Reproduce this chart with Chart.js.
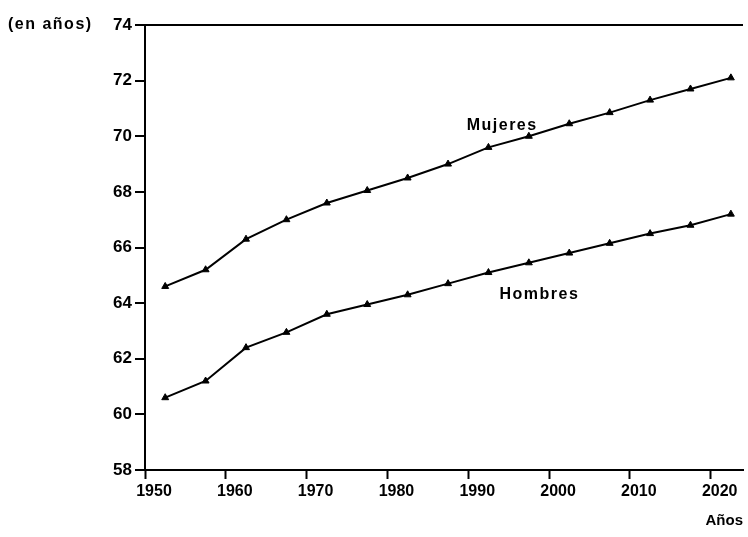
<!DOCTYPE html>
<html>
<head>
<meta charset="utf-8">
<script src="https://cdn.jsdelivr.net/npm/chart.js@4/dist/chart.umd.min.js"></script>
<style>
  html, body { margin: 0; padding: 0; background: #fff; }
  #wrap { width: 748px; height: 537px; }
</style>
</head>
<body>
<div id="wrap"><canvas id="esperanza"></canvas></div>
<script>
// Esperanza de vida al nacer (en años), puntos centrales de cada quinquenio
const anios = [1952.5, 1957.5, 1962.5, 1967.5, 1972.5, 1977.5, 1982.5, 1987.5,
               1992.5, 1997.5, 2002.5, 2007.5, 2012.5, 2017.5, 2022.5];
const mujeres = [64.6, 65.2, 66.3, 67.0, 67.6, 68.05, 68.5, 69.0,
                 69.6, 70.0, 70.45, 70.85, 71.3, 71.7, 72.1];
const hombres = [60.6, 61.2, 62.4, 62.95, 63.6, 63.95, 64.3, 64.7,
                 65.1, 65.45, 65.8, 66.15, 66.5, 66.8, 67.2];
const ticksX = [1950, 1960, 1970, 1980, 1990, 2000, 2010, 2020];
const ticksY = [58, 60, 62, 64, 66, 68, 70, 72, 74];

const fuente = 'bold 16px "Liberation Sans", Arial, sans-serif';

// textos sueltos: unidad del eje y nombres de las series
const rotulos = {
  id: 'rotulos',
  afterDraw(chart) {
    const { ctx, scales: { x, y } } = chart;
    ctx.save();
    ctx.fillStyle = '#000';
    ctx.font = fuente;
    ctx.textBaseline = 'middle';
    try { ctx.letterSpacing = '1.5px'; } catch (e) {}
    ctx.textAlign = 'left';
    ctx.fillText('(en años)', 8, y.getPixelForValue(74));
    ctx.textAlign = 'center';
    ctx.fillText('Mujeres', x.getPixelForValue(1994.2), y.getPixelForValue(70.4));
    ctx.fillText('Hombres', x.getPixelForValue(1998.8), y.getPixelForValue(64.3));
    ctx.restore();
  }
};

const serie = (nombre, valores) => ({
  label: nombre,
  data: anios.map((a, i) => ({ x: a, y: valores[i] })),
  borderColor: '#000',
  backgroundColor: '#000',
  borderWidth: 2,
  pointStyle: 'triangle',
  pointRadius: 4,
  pointBorderWidth: 1,
  tension: 0
});

new Chart(document.getElementById('esperanza'), {
  type: 'line',
  data: { datasets: [serie('Mujeres', mujeres), serie('Hombres', hombres)] },
  options: {
    responsive: true,
    maintainAspectRatio: false,
    animation: false,
    layout: { padding: { left: 5, top: 25, right: 2, bottom: 5 } },
    plugins: { legend: { display: false }, tooltip: { enabled: false } },
    scales: {
      x: {
        type: 'linear',
        min: 1950,
        max: 2024,
        afterFit: (s) => { s.height = 62; },
        afterBuildTicks: (s) => { s.ticks = ticksX.map(v => ({ value: v })); },
        ticks: { color: '#000', font: { family: '"Liberation Sans", Arial, sans-serif', size: 16, weight: 'bold' },
                 padding: 3, labelOffset: 9, maxRotation: 0, callback: v => String(v) },
        grid: { drawOnChartArea: false, tickLength: 9, tickColor: '#000', tickWidth: 2 },
        border: { color: '#000', width: 2 },
        title: { display: true, text: 'Años', align: 'end', color: '#000',
                 font: { family: '"Liberation Sans", Arial, sans-serif', size: 15, weight: 'bold' },
                 padding: { top: 0, bottom: 2 } }
      },
      y: {
        min: 58,
        max: 74,
        afterFit: (s) => { s.width = 140; },
        afterBuildTicks: (s) => { s.ticks = ticksY.map(v => ({ value: v })); },
        ticks: { color: '#000', font: { family: '"Liberation Sans", Arial, sans-serif', size: 17, weight: 'bold' },
                 padding: 3 },
        grid: {
          color: c => (c.tick && c.tick.value === 74) ? '#000' : 'rgba(0,0,0,0)',
          lineWidth: 2,
          tickColor: '#000',
          tickLength: 10,
          tickWidth: 2
        },
        border: { color: '#000', width: 2 }
      }
    }
  },
  plugins: [rotulos]
});
</script>
</body>
</html>
